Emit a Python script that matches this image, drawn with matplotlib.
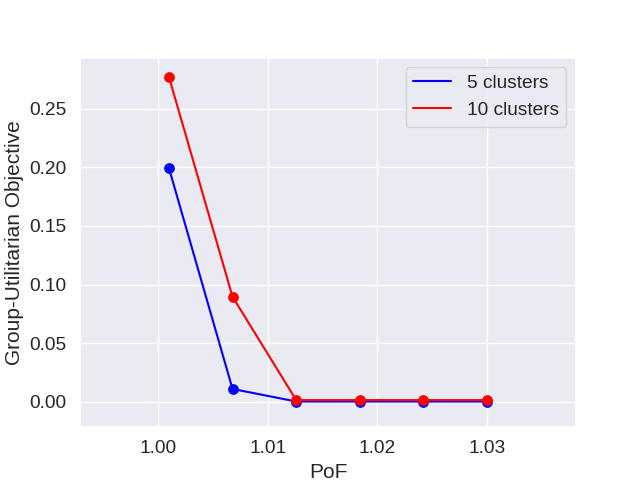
import matplotlib
matplotlib.use("Agg")
import matplotlib.pyplot as plt
import seaborn as sns
import numpy as np

sns.set_theme(style="darkgrid", font_scale=1.25)
plt.rcParams['font.family'] = ['Liberation Sans', 'DejaVu Sans']

pof = [1.001, 1.0068, 1.0126, 1.0184, 1.0242, 1.030]
obj_5 = [0.1995, 0.0111, 0.0004, 0.0004, 0.0004, 0.0004]
obj_10 = [0.2772, 0.0897, 0.0016, 0.0016, 0.0016, 0.0016]
labels = ["5 clusters", "10 clusters"]

fig, ax = plt.subplots(figsize=(6.4, 4.8), dpi=100)
ax.plot(pof, obj_5, color="blue", label=labels[0], linewidth=1.5)
ax.scatter(pof, obj_5, color="blue", s=45, zorder=3)
ax.plot(pof, obj_10, color="red", label=labels[1], linewidth=1.5)
ax.scatter(pof, obj_10, color="red", s=45, zorder=3)

ax.set_xlim(0.9929, 1.0381)
ax.set_ylim(-0.0215, 0.2935)
ax.set_xticks([1.00, 1.01, 1.02, 1.03])
ax.set_xlabel("PoF")
ax.set_ylabel("Group-Utilitarian Objective")
ax.legend(loc="upper right")

fig.savefig("out.png", dpi=100)
